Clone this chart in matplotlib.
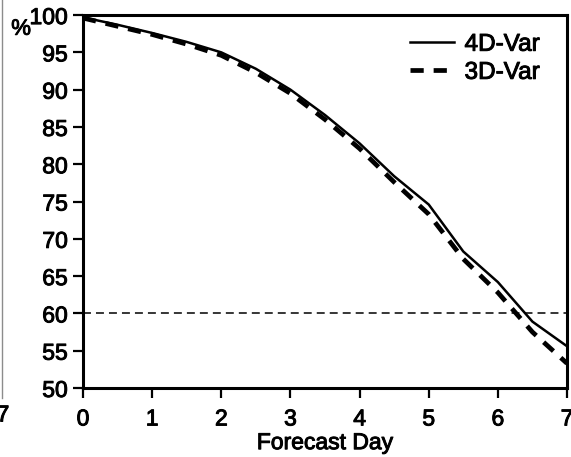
import matplotlib
matplotlib.use("Agg")
import matplotlib.pyplot as plt
import matplotlib.patheffects as pe
from matplotlib.lines import Line2D

plt.rcParams['font.family'] = ['Liberation Sans', 'DejaVu Sans']

days = [0, 0.5, 1, 1.5, 2, 2.5, 3, 3.5, 4, 4.5, 5, 5.5, 6, 6.5, 7]
var4d = [99.7, 98.7, 97.6, 96.4, 95.0, 92.8, 90.0, 86.6, 82.8, 78.4, 74.6, 68.3, 64.2, 58.9, 55.6]
var3d = [99.6, 98.5, 97.4, 96.1, 94.6, 92.3, 89.5, 86.0, 82.1, 77.6, 73.3, 67.3, 62.8, 57.5, 53.3]
threshold = 60
xticks = list(range(0, 8))
yticks = list(range(50, 101, 5))

heavy = [pe.withStroke(linewidth=0.7, foreground='black')]

fig = plt.figure(figsize=(5.71, 4.57), dpi=100)
ax = fig.add_axes([0.1454, 0.151, 0.8476, 0.816])

ax.axhline(threshold, color='black', lw=1.1, ls=(0, (5.2, 3.3)))
ax.plot(days, var4d, color='black', lw=1.8, label='4D-Var')
ax.plot(days, var3d, color='black', lw=3.4, ls=(0, (2.8, 2.1)), label='3D-Var')

ax.set_xlim(0, 7)
ax.set_ylim(50, 100)
ax.set_xticks(xticks)
ax.set_yticks(yticks)
ax.tick_params(direction='out', length=7, width=1.6, labelsize=16.5, pad=4)
ax.tick_params(axis='x', pad=7)
for s in ax.spines.values():
    s.set_linewidth(2.2)
ax.set_xlabel('Forecast Day', fontsize=16.5, labelpad=0.5)

for t in ax.get_xticklabels() + ax.get_yticklabels():
    t.set_path_effects(heavy)
ax.xaxis.label.set_path_effects(heavy)

ax.text(-0.128, 0.962, '%', transform=ax.transAxes, fontsize=16,
        ha='center', va='center', path_effects=heavy)

leg = ax.legend(loc='upper right', bbox_to_anchor=(0.943, 0.95), frameon=False,
                fontsize=17.5, handlelength=1.8, handletextpad=0.45,
                borderaxespad=0, borderpad=0, labelspacing=0.25)
for t in leg.get_texts():
    t.set_path_effects(heavy)

# edge of the neighbouring panel
fig.add_artist(Line2D([0.004, 0.004], [0.13, 1.0], transform=fig.transFigure,
                      color='0.55', lw=1.0))
fig.text(-0.006, 0.092, '7', fontsize=16.5, ha='left', va='center', path_effects=heavy)

fig.savefig('out.png', dpi=100)
